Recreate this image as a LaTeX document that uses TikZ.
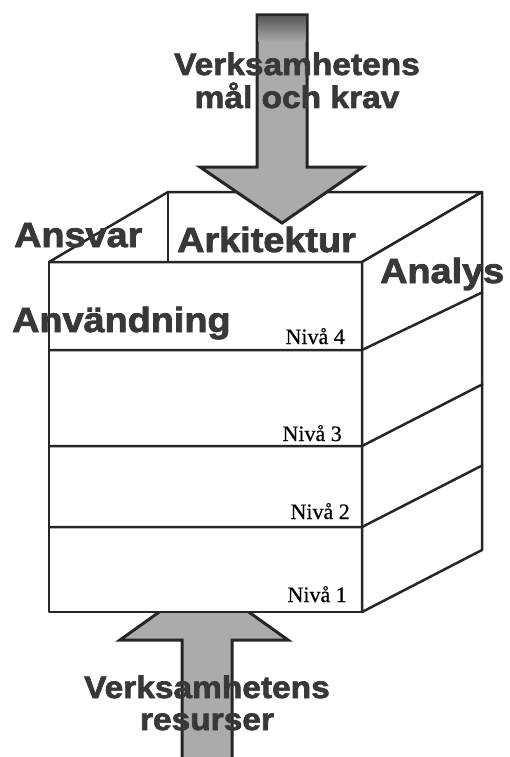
\documentclass[tikz,border=0pt]{standalone}
\usepackage{fontspec}
\newfontfamily\labelfont[FakeStretch=1.08,FakeBold=2.2]{Liberation Sans}
\newfontfamily\levelfont[FakeBold=0.6]{Liberation Serif}
\colorlet{edge}{black!85}
\colorlet{txt}{black!78}
\colorlet{arr}{black!33}
\colorlet{arrdark}{black!65}
\tikzset{
    heading/.style={txt,font=\labelfont\bfseries\fontsize{31}{34}\selectfont,inner sep=0pt,anchor=base},
    facename/.style={txt,font=\labelfont\bfseries\fontsize{35}{38}\selectfont,inner sep=0pt,anchor=base west},
    level/.style={font=\levelfont\fontsize{22}{24}\selectfont,inner sep=0pt,anchor=base east},
    face/.style={draw=edge,fill=white,line width=2.5pt,line join=round},
    rim/.style={draw=edge,line width=2.5pt,line join=round},
    bigarrow/.style={draw=edge,fill=arr,line width=3pt,line join=miter}
}

\begin{document}
\begin{tikzpicture}[x=1pt,y=-1pt]
        \useasboundingbox (0,0) rectangle (509,757);
        \clip (0,0) rectangle (509,757);
        \draw [bigarrow] (182,770)
            -- (182,640) -- (120,640)
            -- (204,580)
            -- (288,640) -- (232,640)
            -- (232,770) -- cycle;
        \coordinate (fl) at (49,262);
        \coordinate (fr) at (362,262);
        \coordinate (bl) at (168,192);
        \coordinate (br) at (482,192);
        \coordinate (fbl) at (49,612);
        \coordinate (fbr) at (362,612);
        \coordinate (bbr) at (482,550);
        \draw [face] (fl) -- (fr) -- (fbr) -- (fbl) -- cycle;
        \draw [face] (fl) -- (bl) -- (br) -- (fr) -- cycle;
        \draw [face] (fr) -- (br) -- (bbr) -- (fbr) -- cycle;
        \draw [rim] (bl) -- (168,262);
        \foreach \y/\yy in {350/292,446/384,527/465} {
            \draw [rim] (49,\y) -- (362,\y) -- (483,\yy);
        }
        \draw [bigarrow] (257,15) -- (307,15)
            -- (307,167) -- (363,167)
            -- (282,223)
            -- (200,167) -- (257,167) -- cycle;
        \shade [top color=arrdark,bottom color=arr] (258.5,16.5) rectangle (305.5,42);
        \node [heading] (goal1) at (297,75) {Verksamhetens};
        \node [heading] (goal2) at (297,108) {mål och krav};
        \node [heading] (res1) at (207,698) {Verksamhetens};
        \node [heading] (res2) at (207,730) {resurser};
        \node [facename] (ansvar) at (14,247) {Ansvar};
        \node [facename] (arkitektur) at (177,252) {Arkitektur};
        \node [facename] (analys) at (380,283) {Analys};
        \node [facename] (anvandning) at (12,332) {Användning};
        \node [level] (niva4) at (345,344) {Nivå 4};
        \node [level] (niva3) at (342,441) {Nivå 3};
        \node [level] (niva2) at (350,519) {Nivå 2};
        \node [level] (niva1) at (347,602) {Nivå 1};
    \end{tikzpicture}
\end{document}
